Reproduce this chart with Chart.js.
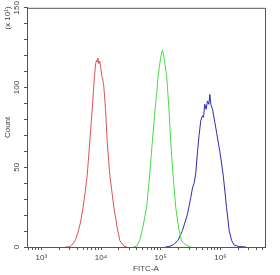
<!DOCTYPE html>
<html>
<head>
<meta charset="utf-8">
<script src="https://cdn.jsdelivr.net/npm/chart.js@4"></script>
<style>
  html, body { margin: 0; padding: 0; background: #fff; }
  #wrap { width: 280px; height: 275px; }
</style>
</head>
<body>
<div id="wrap"><canvas id="histChart"></canvas></div>
<script>
// Histogram channels (FITC-A) and counts (x 10^1)
const redX = [2500, 2730, 3070, 3400, 3720, 4100, 4500, 5020, 5450, 5870, 6480, 7110, 7500, 7780, 8110, 8430, 8640, 8840, 9200, 9530, 9940, 10330, 10580, 11100, 11900, 12710, 14060, 16410, 18700, 20700, 24200, 27000];
const redY = [0, 0, 0.5, 2, 4.5, 9, 15, 25, 35, 45, 66, 86, 99, 107, 115, 117, 116, 118.5, 115, 116.5, 112, 107, 106, 101.5, 86.5, 66, 45, 25, 12, 4, 0.5, 0];

const greenX = [35000, 39500, 44400, 50000, 58200, 65300, 72500, 80300, 86000, 90200, 95000, 100000, 106700, 112000, 118000, 126200, 138000, 147300, 161000, 178600, 200000, 222700, 260000, 299000, 320000];
const greenY = [0, 0.5, 4, 12, 25, 45, 66, 86, 97, 107, 113, 119, 123.5, 120.5, 114.5, 107, 86, 66, 45, 25, 12, 4, 1.5, 0.3, 0];

const blueX = [120000, 138000, 165000, 195400, 231700, 281000, 319000, 341000, 363000, 387000, 414000, 440000, 470000, 502000, 522000, 548000, 577000, 609000, 641000, 666000, 692000, 739000, 809000, 863000, 982000, 1115000, 1271000, 1406000, 1542000, 1706000, 2046000, 2685000];
const blueY = [0, 0.3, 1.5, 4.2, 10.3, 20.6, 30.9, 37, 40, 46.3, 59.7, 70, 79.3, 82.3, 81.3, 89.5, 86.4, 91.6, 89.5, 95.7, 89.5, 86.4, 78.2, 72, 59.7, 45.3, 24.7, 10.3, 4.2, 1.2, 0.3, 0];

// Axis ticks
const xMajorTicks = [1000, 10000, 100000, 1000000];
const xTickLabels = ['10\u00B3', '10\u2074', '10\u2075', '10\u2076'];
const xMinorTicks = [600, 700, 800, 900, 2000, 3000, 4000, 5000, 6000, 7000, 8000, 9000,
    20000, 30000, 40000, 50000, 60000, 70000, 80000, 90000,
    200000, 300000, 400000, 500000, 600000, 700000, 800000, 900000,
    2000000, 3000000, 4000000, 5000000];
const yTickLabels = [0, 50, 100, 150];

const axisColor = '#555';
const textColor = '#444';
const fontFamily = '"Liberation Sans", Arial, sans-serif';

function toPoints(xs, ys) {
    return xs.map((x, i) => ({ x: x, y: ys[i] }));
}

// Frame on top/right plus rotated y labels and the multiplier note
const framePlugin = {
    id: 'frame',
    afterDraw(chart) {
        const ctx = chart.ctx;
        const a = chart.chartArea;
        const yScale = chart.scales.y;
        ctx.save();
        ctx.strokeStyle = axisColor;
        ctx.lineWidth = 1;
        ctx.beginPath();
        ctx.moveTo(a.left, a.top + 0.5);
        ctx.lineTo(a.right + 0.5, a.top + 0.5);
        ctx.lineTo(a.right + 0.5, a.bottom);
        ctx.stroke();

        ctx.fillStyle = textColor;
        ctx.font = '8px ' + fontFamily;
        ctx.textAlign = 'center';
        ctx.textBaseline = 'middle';
        yTickLabels.forEach(v => {
            ctx.save();
            ctx.translate(17, yScale.getPixelForValue(v));
            ctx.rotate(-Math.PI / 2);
            ctx.fillText(String(v), 0, 0);
            ctx.restore();
        });

        ctx.save();
        ctx.translate(8, 18);
        ctx.rotate(-Math.PI / 2);
        ctx.fillText('(x 10\u00B9)', 0, 0);
        ctx.restore();
        ctx.restore();
    }
};

const lineStyle = { borderWidth: 1, pointRadius: 0, tension: 0, fill: false };

new Chart(document.getElementById('histChart'), {
    type: 'line',
    data: {
        datasets: [
            { ...lineStyle, label: 'red', data: toPoints(redX, redY), borderColor: '#e05454' },
            { ...lineStyle, label: 'green', data: toPoints(greenX, greenY), borderColor: '#46dc46' },
            { ...lineStyle, label: 'blue', data: toPoints(blueX, blueY), borderColor: '#2c2cb4' }
        ]
    },
    options: {
        responsive: true,
        maintainAspectRatio: false,
        animation: false,
        layout: { padding: { top: 5, right: 15, left: 0, bottom: 0 } },
        plugins: {
            legend: { display: false },
            tooltip: { enabled: false }
        },
        scales: {
            x: {
                type: 'logarithmic',
                min: 575,
                max: 5600000,
                afterBuildTicks: function(scale) {
                    scale.ticks = xMinorTicks.concat(xMajorTicks)
                        .sort((a, b) => a - b)
                        .map(v => ({ value: v }));
                },
                afterFit: function(scale) { scale.height = 28; },
                border: { display: true, color: axisColor, width: 1 },
                grid: { display: true, drawOnChartArea: false, drawTicks: true, tickLength: 3, color: axisColor },
                ticks: {
                    autoSkip: false,
                    maxRotation: 0,
                    padding: 3,
                    color: textColor,
                    font: { size: 8, family: fontFamily },
                    callback: function(value) {
                        const i = xMajorTicks.indexOf(value);
                        return i >= 0 ? xTickLabels[i] : '';
                    }
                },
                title: {
                    display: true,
                    text: 'FITC-A',
                    color: textColor,
                    padding: { top: 0, bottom: 1 },
                    font: { size: 8, family: fontFamily }
                }
            },
            y: {
                min: 0,
                max: 150,
                afterFit: function(scale) { scale.width = 27; },
                border: { display: true, color: axisColor, width: 1 },
                grid: { display: true, drawOnChartArea: false, drawTicks: true, tickLength: 3, color: axisColor },
                ticks: {
                    stepSize: 10,
                    color: textColor,
                    font: { size: 8, family: fontFamily },
                    callback: function() { return ''; }
                },
                title: {
                    display: true,
                    text: 'Count',
                    color: textColor,
                    padding: { top: 3, bottom: 0 },
                    font: { size: 8, family: fontFamily }
                }
            }
        }
    },
    plugins: [framePlugin]
});
</script>
</body>
</html>
